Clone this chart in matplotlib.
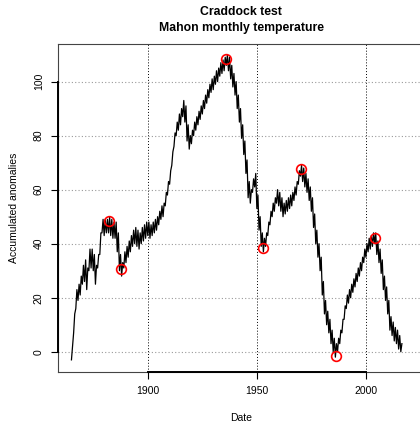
import numpy as np
import matplotlib
matplotlib.use("Agg")
import matplotlib.pyplot as plt

plt.rcParams["font.family"] = ["Liberation Sans", "DejaVu Sans"]

# Jahre (eine Spitze und ein Tal pro Jahr)
years = np.arange(1865, 2017)
acc_hi = [2, 14, 23, 25, 28, 32, 34, 31, 38, 38, 36, 32, 36, 44, 49, 49, 49, 50, 49, 48,
          48, 44, 36, 33, 37, 39, 41, 43, 45, 46, 45, 44, 46, 47, 48, 48, 47, 48, 49, 50,
          52, 54, 55, 59, 63, 67, 74, 81, 85, 88, 90, 93, 91, 84, 80, 82, 85, 87, 89, 91,
          93, 95, 97, 99, 101, 102, 104, 105, 107, 108, 109, 110, 109, 106, 103, 100, 95, 90, 84, 78,
          71, 63, 60, 64, 66, 58, 50, 44, 42, 44, 48, 52, 55, 57, 60, 59, 57, 55, 56, 57,
          58, 59, 61, 63, 67, 69, 68, 66, 64, 61, 57, 51, 45, 40, 35, 26, 19, 15, 12, 8,
          5, 3, 5, 8, 12, 17, 21, 23, 25, 27, 29, 31, 33, 35, 38, 40, 42, 43, 44, 44,
          41, 38, 34, 28, 24, 19, 13, 11, 9, 8, 6, 3]
acc_lo = [-3, 7, 16, 19, 21, 25, 26, 23, 30, 31, 30, 25, 31, 36, 44, 43, 44, 44, 43, 42,
          42, 37, 30, 28, 31, 33, 35, 37, 39, 40, 39, 38, 40, 41, 42, 43, 42, 43, 44, 45,
          47, 49, 50, 54, 58, 62, 69, 76, 80, 82, 84, 87, 85, 78, 75, 77, 80, 82, 84, 86,
          88, 90, 92, 94, 96, 97, 99, 100, 102, 103, 104, 106, 104, 101, 98, 95, 90, 85, 79, 73,
          66, 57, 55, 59, 61, 53, 45, 39, 37, 39, 43, 47, 50, 52, 55, 54, 52, 50, 51, 52,
          53, 54, 56, 58, 62, 65, 63, 61, 59, 56, 52, 46, 40, 35, 30, 21, 14, 10, 7, 3,
          0, -2, 0, 3, 7, 12, 16, 18, 20, 22, 24, 26, 28, 30, 33, 35, 37, 38, 39, 40,
          36, 33, 29, 23, 19, 14, 8, 6, 4, 3, 1, 0]

# Bruchpunkte (rote Kreise)
break_years = [1882, 1887.6, 1936, 1953, 1970.3, 1986.5, 2004.3]
break_vals = [48.5, 30.5, 108.3, 38.5, 67.5, -1.5, 42]

x_ticks = [1900, 1950, 2000]
y_ticks = [0, 20, 40, 60, 80, 100]

# Serie zusammensetzen: Tal, dann Spitze
x = np.column_stack([years, years + 0.5]).ravel()
y = np.column_stack([acc_lo, acc_hi]).ravel()

fig = plt.figure(figsize=(4.2, 4.22), dpi=100)
ax = fig.add_axes([0.1374, 0.1178, 0.873, 0.7779])

ax.set_xlim(1858.7, 2026.8)
ax.set_ylim(-7.6, 113.9)

# Gitter
for v in x_ticks:
    ax.axvline(v, color="black", lw=0.7, ls=(0, (1, 2)), zorder=1)
for v in y_ticks:
    ax.axhline(v, color="#9a9a9a", lw=0.8, ls=(0, (1, 2)), zorder=1)

ax.plot(x, y, color="black", lw=0.9, zorder=3)
ax.plot(break_years, break_vals, "o", ms=7, mfc="none", mec="red", mew=1.2, zorder=4)

# R-artige Achsen
for s in ax.spines.values():
    s.set_color("#444444")
    s.set_linewidth(0.8)
ax.plot([x_ticks[0], x_ticks[-1]], [0, 0], color="black", lw=1.4,
        transform=ax.get_xaxis_transform(), clip_on=False, zorder=5)
ax.plot([0, 0], [y_ticks[0], y_ticks[-1]], color="black", lw=1.4,
        transform=ax.get_yaxis_transform(), clip_on=False, zorder=5)

ax.set_xticks(x_ticks)
ax.set_yticks(y_ticks)
ax.tick_params(direction="out", length=5, width=0.8, labelsize=7.5, pad=5)
plt.setp(ax.get_yticklabels(), rotation=90, va="center")

ax.set_xlabel("Date", fontsize=7.5, labelpad=12)
ax.set_ylabel("Accumulated anomalies", fontsize=7.5, labelpad=11)
ax.set_title("Craddock test\nMahon monthly temperature", fontsize=8.8, fontweight="bold",
             pad=9.5, linespacing=1.45)

fig.savefig("out.png", dpi=100)
